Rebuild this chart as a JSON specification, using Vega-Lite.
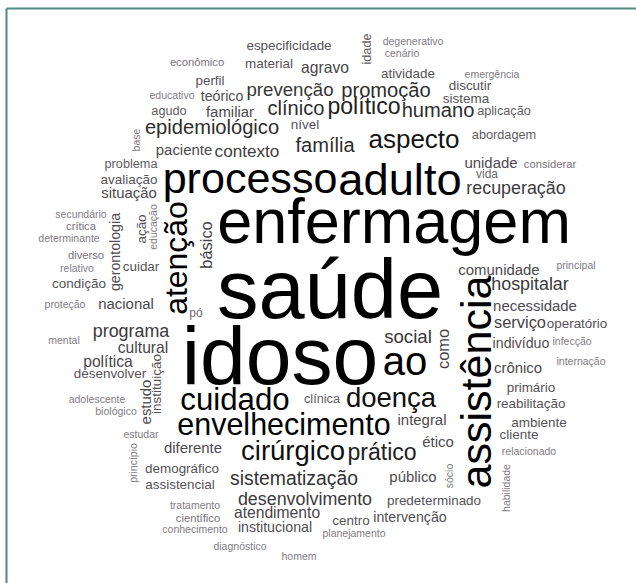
{
  "$schema": "https://vega.github.io/schema/vega-lite/v6.json",
  "width": 630,
  "height": 575,
  "autosize": {"type": "none"},
  "padding": {"left": 6, "top": 8, "right": 0, "bottom": 0},
  "background": "white",
  "config": {
    "view": {"stroke": null},
    "axis": {"domainColor": "#4d8c82", "domainWidth": 2, "labels": false, "ticks": false, "grid": false, "title": null}
  },
  "data": {"values": [
    {"word": "saúde", "x": 330, "y": 318, "freq": 100, "orient": "h"},
    {"word": "idoso", "x": 280, "y": 384, "freq": 99, "orient": "h"},
    {"word": "enfermagem", "x": 394, "y": 243, "freq": 73, "orient": "h"},
    {"word": "adulto", "x": 400, "y": 195, "freq": 49, "orient": "h"},
    {"word": "processo", "x": 250, "y": 193, "freq": 46, "orient": "h"},
    {"word": "assistência", "x": 491, "y": 382, "freq": 46, "orient": "v"},
    {"word": "ao", "x": 405, "y": 375, "freq": 42, "orient": "h"},
    {"word": "atenção", "x": 187, "y": 258, "freq": 31, "orient": "v"},
    {"word": "cuidado", "x": 235, "y": 410, "freq": 30, "orient": "h"},
    {"word": "envelhecimento", "x": 284, "y": 435, "freq": 29, "orient": "h"},
    {"word": "doença", "x": 391, "y": 407, "freq": 25, "orient": "h"},
    {"word": "cirúrgico", "x": 293, "y": 460, "freq": 25, "orient": "h"},
    {"word": "aspecto", "x": 414, "y": 148, "freq": 23, "orient": "h"},
    {"word": "prático", "x": 382, "y": 460, "freq": 19, "orient": "h"},
    {"word": "político", "x": 364, "y": 114, "freq": 19, "orient": "h"},
    {"word": "epidemiológico", "x": 212, "y": 134, "freq": 15, "orient": "h"},
    {"word": "família", "x": 325, "y": 152, "freq": 15, "orient": "h"},
    {"word": "clínico", "x": 296, "y": 115, "freq": 15, "orient": "h"},
    {"word": "humano", "x": 438, "y": 117, "freq": 15, "orient": "h"},
    {"word": "promoção", "x": 386, "y": 97, "freq": 15, "orient": "h"},
    {"word": "sistematização", "x": 294, "y": 485, "freq": 14, "orient": "h"},
    {"word": "prevenção", "x": 290, "y": 96, "freq": 13, "orient": "h"},
    {"word": "social", "x": 408, "y": 343, "freq": 13, "orient": "h"},
    {"word": "recuperação", "x": 516, "y": 194, "freq": 12, "orient": "h"},
    {"word": "hospitalar", "x": 530, "y": 290, "freq": 12, "orient": "h"},
    {"word": "programa", "x": 131, "y": 337, "freq": 12, "orient": "h"},
    {"word": "desenvolvimento", "x": 305, "y": 505, "freq": 12, "orient": "h"},
    {"word": "contexto", "x": 247, "y": 157, "freq": 11, "orient": "h"},
    {"word": "serviço", "x": 520, "y": 328, "freq": 10, "orient": "h"},
    {"word": "básico", "x": 212, "y": 245, "freq": 10, "orient": "v"},
    {"word": "como", "x": 449, "y": 349, "freq": 10, "orient": "v"},
    {"word": "cultural", "x": 143, "y": 353, "freq": 9, "orient": "h"},
    {"word": "agravo", "x": 325, "y": 73, "freq": 9, "orient": "h"},
    {"word": "política", "x": 108, "y": 367, "freq": 9, "orient": "h"},
    {"word": "atendimento", "x": 277, "y": 518, "freq": 9, "orient": "h"},
    {"word": "situação", "x": 129, "y": 198, "freq": 8, "orient": "h"},
    {"word": "paciente", "x": 184, "y": 155, "freq": 8, "orient": "h"},
    {"word": "familiar", "x": 230, "y": 117, "freq": 8, "orient": "h"},
    {"word": "nacional", "x": 126, "y": 309, "freq": 8, "orient": "h"},
    {"word": "comunidade", "x": 499, "y": 275, "freq": 8, "orient": "h"},
    {"word": "unidade", "x": 491, "y": 168, "freq": 8, "orient": "h"},
    {"word": "diferente", "x": 193, "y": 453, "freq": 8, "orient": "h"},
    {"word": "integral", "x": 422, "y": 425, "freq": 8, "orient": "h"},
    {"word": "ético", "x": 438, "y": 447, "freq": 8, "orient": "h"},
    {"word": "público", "x": 413, "y": 482, "freq": 8, "orient": "h"},
    {"word": "crônico", "x": 518, "y": 373, "freq": 8, "orient": "h"},
    {"word": "necessidade", "x": 535, "y": 311, "freq": 8, "orient": "h"},
    {"word": "estudo", "x": 151, "y": 402, "freq": 8, "orient": "v"},
    {"word": "indivíduo", "x": 521, "y": 348, "freq": 7, "orient": "h"},
    {"word": "institucional", "x": 275, "y": 532, "freq": 7, "orient": "h"},
    {"word": "intervenção", "x": 410, "y": 522, "freq": 7, "orient": "h"},
    {"word": "teórico", "x": 222, "y": 101, "freq": 7, "orient": "h"},
    {"word": "gerontologia", "x": 120, "y": 252, "freq": 7, "orient": "v"},
    {"word": "desenvolver", "x": 110, "y": 378, "freq": 6, "orient": "h"},
    {"word": "condição", "x": 79, "y": 288, "freq": 6, "orient": "h"},
    {"word": "cuidar", "x": 141, "y": 271, "freq": 6, "orient": "h"},
    {"word": "especificidade", "x": 289, "y": 50, "freq": 6, "orient": "h"},
    {"word": "material", "x": 269, "y": 68, "freq": 6, "orient": "h"},
    {"word": "atividade", "x": 408, "y": 78, "freq": 6, "orient": "h"},
    {"word": "sistema", "x": 466, "y": 103, "freq": 6, "orient": "h"},
    {"word": "discutir", "x": 470, "y": 90, "freq": 6, "orient": "h"},
    {"word": "perfil", "x": 210, "y": 85, "freq": 6, "orient": "h"},
    {"word": "avaliação", "x": 129, "y": 184, "freq": 6, "orient": "h"},
    {"word": "nível", "x": 305, "y": 129, "freq": 6, "orient": "h"},
    {"word": "primário", "x": 531, "y": 392, "freq": 6, "orient": "h"},
    {"word": "reabilitação", "x": 531, "y": 408, "freq": 6, "orient": "h"},
    {"word": "ambiente", "x": 539, "y": 427, "freq": 6, "orient": "h"},
    {"word": "cliente", "x": 519, "y": 439, "freq": 6, "orient": "h"},
    {"word": "operatório", "x": 577, "y": 328, "freq": 6, "orient": "h"},
    {"word": "predeterminado", "x": 434, "y": 505, "freq": 6, "orient": "h"},
    {"word": "centro", "x": 351, "y": 525, "freq": 6, "orient": "h"},
    {"word": "demográfico", "x": 182, "y": 473, "freq": 6, "orient": "h"},
    {"word": "assistencial", "x": 180, "y": 489, "freq": 6, "orient": "h"},
    {"word": "ação", "x": 146, "y": 229, "freq": 6, "orient": "v"},
    {"word": "instituição", "x": 161, "y": 384, "freq": 6, "orient": "v"},
    {"word": "aplicação", "x": 504, "y": 115, "freq": 5, "orient": "h"},
    {"word": "abordagem", "x": 504, "y": 139, "freq": 5, "orient": "h"},
    {"word": "agudo", "x": 169, "y": 115, "freq": 5, "orient": "h"},
    {"word": "problema", "x": 131, "y": 168, "freq": 5, "orient": "h"},
    {"word": "clínica", "x": 322, "y": 403, "freq": 5, "orient": "h"},
    {"word": "idade", "x": 371, "y": 49, "freq": 5, "orient": "v"},
    {"word": "vida", "x": 487, "y": 178, "freq": 4, "orient": "h"},
    {"word": "pó", "x": 196, "y": 317, "freq": 4, "orient": "h"},
    {"word": "econômico", "x": 197, "y": 66, "freq": 3, "orient": "h"},
    {"word": "considerar", "x": 550, "y": 168, "freq": 3, "orient": "h"},
    {"word": "crítica", "x": 81, "y": 230, "freq": 3, "orient": "h"},
    {"word": "diverso", "x": 86, "y": 259, "freq": 3, "orient": "h"},
    {"word": "científico", "x": 198, "y": 522, "freq": 3, "orient": "h"},
    {"word": "educativo", "x": 172, "y": 99, "freq": 2, "orient": "h"},
    {"word": "degenerativo", "x": 413, "y": 45, "freq": 2, "orient": "h"},
    {"word": "cenário", "x": 402, "y": 57, "freq": 2, "orient": "h"},
    {"word": "emergência", "x": 492, "y": 78, "freq": 2, "orient": "h"},
    {"word": "secundário", "x": 81, "y": 218, "freq": 2, "orient": "h"},
    {"word": "determinante", "x": 69, "y": 242, "freq": 2, "orient": "h"},
    {"word": "relativo", "x": 77, "y": 272, "freq": 2, "orient": "h"},
    {"word": "proteção", "x": 65, "y": 308, "freq": 2, "orient": "h"},
    {"word": "mental", "x": 64, "y": 344, "freq": 2, "orient": "h"},
    {"word": "adolescente", "x": 97, "y": 403, "freq": 2, "orient": "h"},
    {"word": "biológico", "x": 116, "y": 415, "freq": 2, "orient": "h"},
    {"word": "estudar", "x": 141, "y": 438, "freq": 2, "orient": "h"},
    {"word": "tratamento", "x": 195, "y": 509, "freq": 2, "orient": "h"},
    {"word": "conhecimento", "x": 195, "y": 533, "freq": 2, "orient": "h"},
    {"word": "diagnóstico", "x": 240, "y": 550, "freq": 2, "orient": "h"},
    {"word": "homem", "x": 299, "y": 560, "freq": 2, "orient": "h"},
    {"word": "planejamento", "x": 354, "y": 537, "freq": 2, "orient": "h"},
    {"word": "relacionado", "x": 529, "y": 455, "freq": 2, "orient": "h"},
    {"word": "principal", "x": 576, "y": 269, "freq": 2, "orient": "h"},
    {"word": "infecção", "x": 572, "y": 345, "freq": 2, "orient": "h"},
    {"word": "internação", "x": 581, "y": 365, "freq": 2, "orient": "h"},
    {"word": "educação", "x": 157, "y": 227, "freq": 2, "orient": "v"},
    {"word": "base", "x": 140, "y": 140, "freq": 2, "orient": "v"},
    {"word": "princípio", "x": 137, "y": 463, "freq": 2, "orient": "v"},
    {"word": "sócio", "x": 453, "y": 476, "freq": 2, "orient": "v"},
    {"word": "habilidade", "x": 510, "y": 488, "freq": 2, "orient": "v"}
  ]},
  "mark": {"type": "text", "font": "Liberation Sans", "align": "center", "baseline": "alphabetic"},
  "encoding": {
    "x": {"field": "x", "type": "quantitative", "axis": {"orient": "top"}, "scale": {"domain": [6, 636], "nice": false, "zero": false}},
    "y": {"field": "y", "type": "quantitative", "axis": {"orient": "left"}, "scale": {"domain": [8, 583], "nice": false, "zero": false, "reverse": true}},
    "text": {"field": "word", "type": "nominal"},
    "size": {"field": "freq", "type": "quantitative", "legend": null, "scale": {"domain": [2, 100], "range": [10.5, 83], "zero": false}},
    "color": {"field": "freq", "type": "quantitative", "legend": null, "scale": {"domain": [2, 6, 15, 30], "range": ["#827c84", "#555257", "#2e2e2e", "#000000"], "clamp": true, "interpolate": "rgb"}},
    "angle": {"field": "orient", "type": "nominal", "legend": null, "scale": {"domain": ["h", "v"], "range": [0, 270]}}
  }
}
